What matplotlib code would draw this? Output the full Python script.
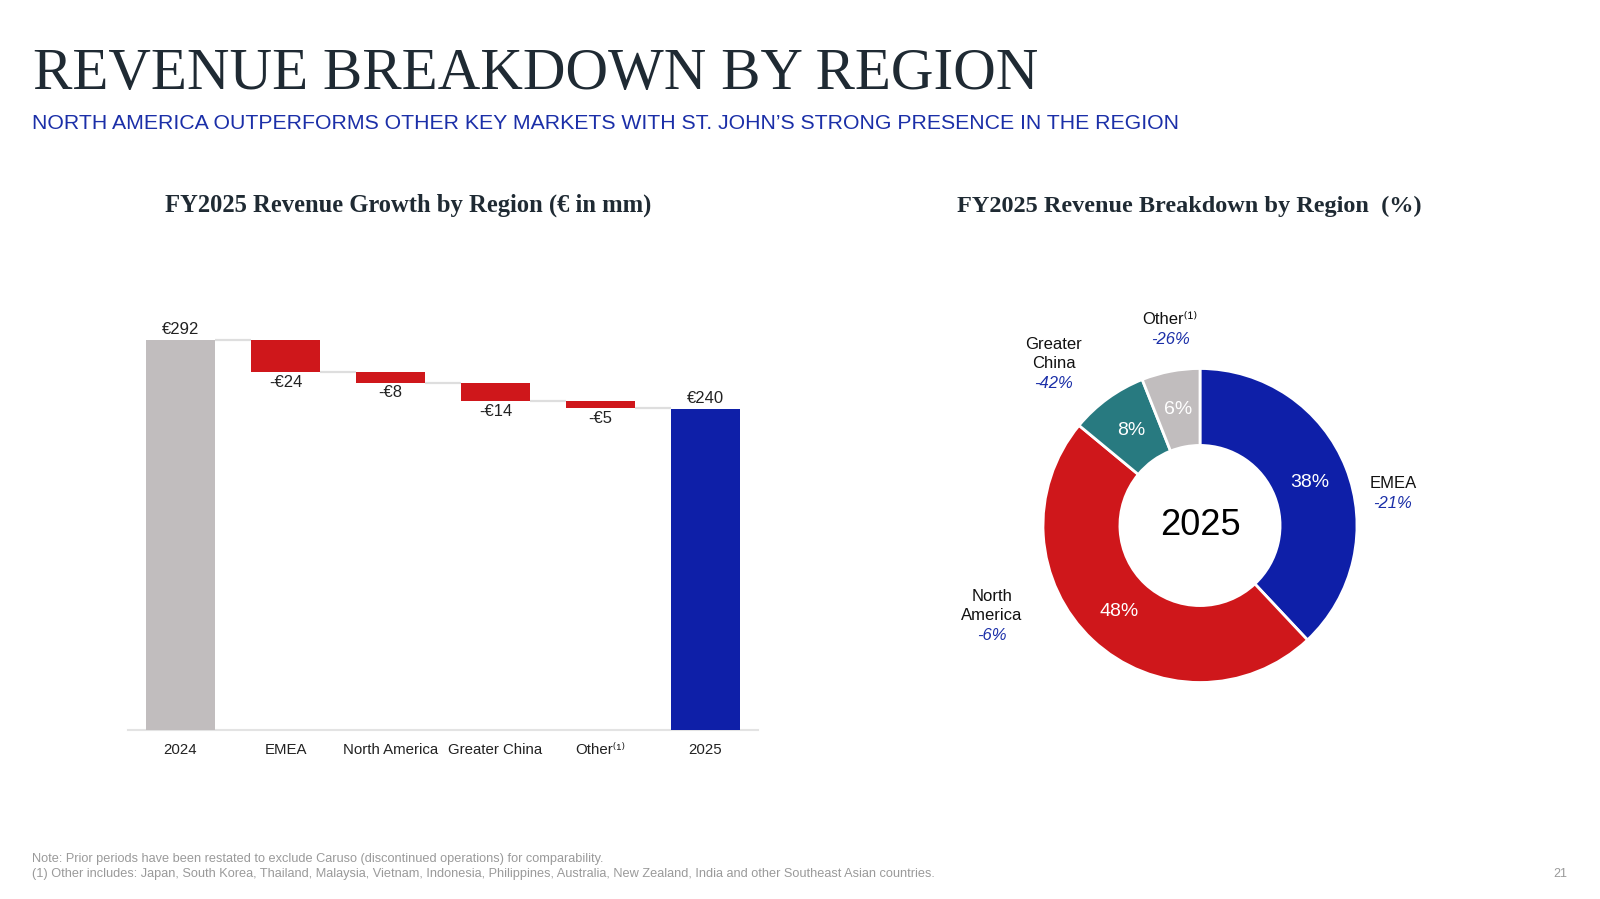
import matplotlib
matplotlib.use("Agg")
import matplotlib.pyplot as plt

# ---------------- data ----------------
wf_categories = ["2024", "EMEA", "North America", "Greater China", "Other\u207d\u00b9\u207e", "2025"]
wf_start = 292
wf_deltas = [-24, -8, -14, -5]
wf_end = 240
wf_value_labels = ["€292", "-€24", "-€8", "-€14", "-€5", "€240"]

donut_regions = ["EMEA", "North America", "Greater China", "Other"]
donut_shares = [38, 48, 8, 6]
donut_growth = ["-21%", "-6%", "-42%", "-26%"]
donut_names = ["EMEA", "North\nAmerica", "Greater\nChina", "Other\u207d\u00b9\u207e"]

# ---------------- style ----------------
plt.rcParams['font.family'] = ['Liberation Sans', 'DejaVu Sans']

GRAY = "#c1bdbe"
RED = "#cf171b"
BLUE = "#0e1fa8"
TEAL = "#287a80"
TXT = "#1f2a33"
SUBBLUE = "#1b2fa8"

W, H = 1600, 899
fig = plt.figure(figsize=(16, 8.99), dpi=100)
fig.patch.set_facecolor("white")

def fx(x):
    return x / W

def fy(y):
    return 1 - y / H

# titles
fig.text(fx(33), fy(89), "REVENUE BREAKDOWN BY REGION", family="Liberation Serif",
         fontsize=42.5, color=TXT, ha="left", va="baseline")
fig.text(fx(32), fy(129), "NORTH AMERICA OUTPERFORMS OTHER KEY MARKETS WITH ST. JOHN\u2019S STRONG PRESENCE IN THE REGION",
         fontsize=15.3, color=SUBBLUE, ha="left", va="baseline")
fig.text(fx(408), fy(212), "FY2025 Revenue Growth by Region (€ in mm)", family="Liberation Serif",
         fontsize=17.7, fontweight="bold", color=TXT, ha="center", va="baseline")
fig.text(fx(1189), fy(212), "FY2025 Revenue Breakdown by Region  (%)", family="Liberation Serif",
         fontsize=17.5, fontweight="bold", color=TXT, ha="center", va="baseline")

# footnotes
fig.text(fx(32), fy(862), "Note: Prior periods have been restated to exclude Caruso (discontinued operations) for comparability.",
         fontsize=9.2, color="#9a9a9a", ha="left", va="baseline")
fig.text(fx(32), fy(877), "(1) Other includes: Japan, South Korea, Thailand, Malaysia, Vietnam, Indonesia, Philippines, Australia, New Zealand, India and other Southeast Asian countries.",
         fontsize=9.2, color="#9a9a9a", ha="left", va="baseline")
fig.text(fx(1567), fy(877), "21", fontsize=9, color="#9a9a9a", ha="right", va="baseline")

# ---------------- waterfall ----------------
ax_l, ax_r = 128, 758
ax_b, ax_t = 730, 289
ax = fig.add_axes([fx(ax_l), fy(ax_b), (ax_r - ax_l) / W, (ax_b - ax_t) / H])
ax.set_xlim(-0.5, 5.5)
ax.set_ylim(0, 330)
bw = 0.66

xs = list(range(len(wf_categories)))
bottoms, heights, colors = [], [], []
bottoms.append(0); heights.append(wf_start); colors.append(GRAY)
levels = [wf_start]
cum = wf_start
for d in wf_deltas:
    new = cum + d
    bottoms.append(min(cum, new)); heights.append(abs(d)); colors.append(RED)
    cum = new
    levels.append(cum)
bottoms.append(0); heights.append(wf_end); colors.append(BLUE)

ax.bar(xs, heights, bottom=bottoms, width=bw, color=colors, zorder=3)

# connectors
for i in range(len(xs) - 1):
    ax.plot([xs[i] + bw / 2, xs[i + 1] - bw / 2], [levels[i], levels[i]],
            color="#dedede", lw=1.6, zorder=2, solid_capstyle="butt")

# value labels
for i, lab in enumerate(wf_value_labels):
    if i == 0 or i == len(xs) - 1:
        ax.annotate(lab, (xs[i], bottoms[i] + heights[i]), xytext=(0, 2), textcoords="offset points",
                    ha="center", va="bottom", fontsize=12, color="#222222")
    else:
        ax.annotate(lab, (xs[i], bottoms[i]), xytext=(0, -2), textcoords="offset points",
                    ha="center", va="top", fontsize=12, color="#222222")

for s in ["top", "right", "left"]:
    ax.spines[s].set_visible(False)
ax.spines["bottom"].set_color("#e3e3e3")
ax.spines["bottom"].set_linewidth(1.5)
ax.set_yticks([])
ax.set_xticks(xs)
ax.set_xticklabels(wf_categories, fontsize=10.8, color="#222222")
ax.tick_params(axis="x", length=0, pad=9)

# ---------------- donut ----------------
cx, cy, R = 1200, 525.5, 157
half = 200
ax2 = fig.add_axes([fx(cx - half), fy(cy + half), 2 * half / W, 2 * half / H])
lim = half / R

wedges, texts, autotexts = ax2.pie(
    donut_shares, colors=[BLUE, RED, TEAL, GRAY], startangle=90, counterclock=False,
    radius=1, wedgeprops=dict(width=0.49, edgecolor="white", linewidth=2),
    autopct=lambda p: f"{p:.0f}%", pctdistance=0.75,
    textprops=dict(color="white", fontsize=14))
ax2.set_xlim(-lim, lim)
ax2.set_ylim(-lim, lim)
ax2.set_aspect("equal")
ax2.axis("off")

ax2.text(0, 0, "2025", ha="center", va="center", fontsize=26, color="black")

# outside labels (positions in pixel space of the figure)
name_pos = [(1393, 484), (992, 606), (1054, 354), (1170, 319)]
growth_pos = [(1393, 504), (992, 636), (1054, 384), (1171, 340)]
for name, g, (nx, ny), (gx, gy) in zip(donut_names, donut_growth, name_pos, growth_pos):
    ax2.text((nx - cx) / R, (cy - ny) / R, name, ha="center", va="center", fontsize=12,
             color="#111111", linespacing=1.35)
    ax2.text((gx - cx) / R, (cy - gy) / R, g, ha="center", va="center", fontsize=12,
             color=SUBBLUE, style="italic")

fig.savefig("out.png", dpi=100, facecolor="white")
